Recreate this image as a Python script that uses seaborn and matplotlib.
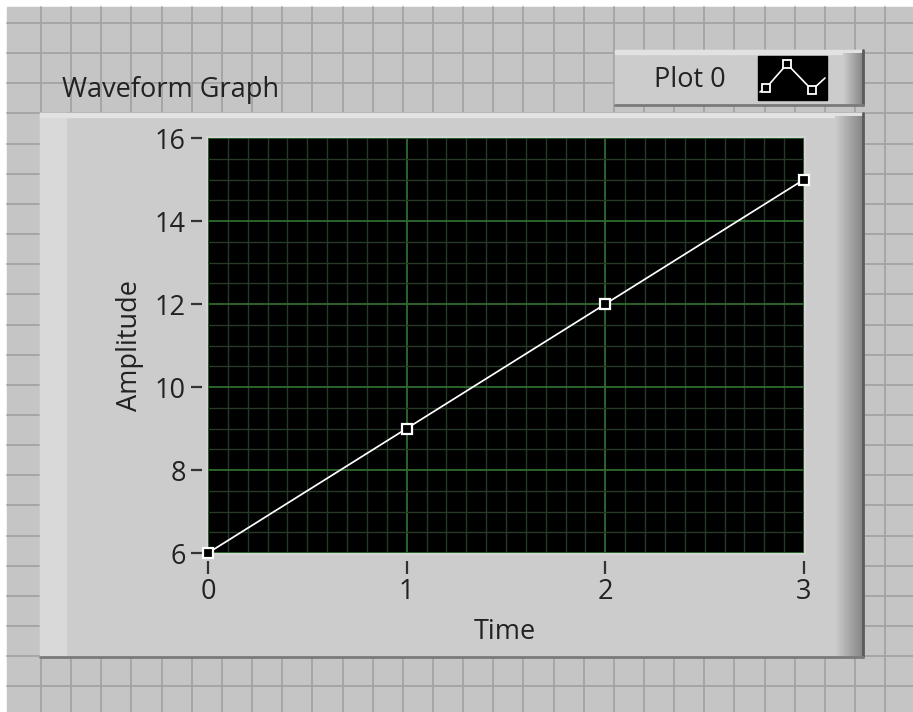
import numpy as np
import pandas as pd
import matplotlib
matplotlib.use("Agg")
import matplotlib.pyplot as plt
from matplotlib.patches import Rectangle
from matplotlib.ticker import MultipleLocator
import seaborn as sns

# ---- data -------------------------------------------------------------
time = [0, 1, 2, 3]
amplitude = [6, 9, 12, 15]
x_ticks = [0, 1, 2, 3]
y_ticks = [6, 8, 10, 12, 14, 16]
title = "Waveform Graph"
plot_name = "Plot 0"
x_label = "Time"
y_label = "Amplitude"

sns.set_style("white")
plt.rcParams["font.family"] = ["Open Sans", "DejaVu Sans"]

W, H = 913, 712
FS = 19.5
TXT = "#222222"
fig = plt.figure(figsize=(W / 100, H / 100), dpi=100)

# ---- front-panel backdrop (pixel coordinates) --------------------------
bg = fig.add_axes([0, 0, 1, 1])
bg.set_xlim(0, W)
bg.set_ylim(H, 0)
bg.axis("off")
bg.add_patch(Rectangle((0, 0), W, H, color="white", zorder=0))
bg.add_patch(Rectangle((7, 7), W - 7, H - 7, color="#c5c5c5", zorder=0.5))
for gx in np.arange(41, W, 30.15):
    bg.plot([gx, gx], [7, H], color="#a3a3a3", lw=1.3, zorder=0.6)
for gy in np.arange(23, H, 30.15):
    bg.plot([7, W], [gy, gy], color="#a3a3a3", lw=1.3, zorder=0.6)


def raised_box(x0, y0, x1, y1, shade_w=26, left_w=0):
    """Beveled grey box like a LabVIEW control frame."""
    bg.add_patch(Rectangle((x0, y0), x1 - x0, y1 - y0, color="#cccccc", zorder=1))
    if left_w:
        bg.add_patch(Rectangle((x0, y0), left_w, y1 - y0, color="#d9d9d9", zorder=1.1))
    bg.add_patch(Rectangle((x0, y0), x1 - x0, 4, color="#e2e2e2", zorder=1.2))
    grad = np.linspace(0.80, 0.52, 64)[None, :]
    bg.imshow(grad, cmap="gray", vmin=0, vmax=1, aspect="auto",
              extent=(x1 - shade_w, x1, y1, y0 + 3), zorder=1.3,
              interpolation="bilinear")
    bg.plot([x1, x1], [y0, y1], color="#5a5a5a", lw=2, zorder=1.4)
    bg.plot([x0, x1], [y1, y1], color="#7a7a7a", lw=2, zorder=1.4)


raised_box(40, 113, 863, 657, shade_w=28, left_w=26)
raised_box(615, 50, 863, 105, shade_w=20)

# legend glyph: black swatch with a short polyline and square markers
bg.add_patch(Rectangle((758, 56), 69, 44, color="black", zorder=2))
glyph_x = [760, 766, 787, 812, 825]
glyph_y = [92, 88, 64, 90, 78]
bg.plot(glyph_x, glyph_y, color="white", lw=1.2, zorder=2.1)
bg.plot(glyph_x[1:4], glyph_y[1:4], ls="none", marker="s", ms=5.5,
        mfc="black", mec="white", mew=1.3, zorder=2.2)

# plot-area border
L, R, T, B = 208, 804, 138, 553
bg.add_patch(Rectangle((L - 1, T - 1), R - L + 2, B - T + 2, fill=False,
                       ec="#d6d6d6", lw=1.2, zorder=3))
bg.set_xlim(0, W)
bg.set_ylim(H, 0)

fig.text(62 / W, 1 - 97 / H, title, fontsize=FS, color=TXT,
         ha="left", va="baseline")
fig.text(654 / W, 1 - 87 / H, plot_name, fontsize=FS, color=TXT,
         ha="left", va="baseline")

# ---- waveform plot area -----------------------------------------------
ax = fig.add_axes([L / W, 1 - B / H, (R - L) / W, (B - T) / H])
ax.set_facecolor("black")

df = pd.DataFrame({"Time": time, "Amplitude": amplitude})
sns.lineplot(data=df, x="Time", y="Amplitude", ax=ax, color="white",
             linewidth=1.25, marker="s", markersize=6.5, markerfacecolor="black",
             markeredgecolor="white", markeredgewidth=1.6, clip_on=False,
             zorder=5)

ax.set_xlim(0, 3)
ax.set_ylim(6, 16)
ax.set_xticks(x_ticks)
ax.set_yticks(y_ticks)
ax.xaxis.set_minor_locator(MultipleLocator(0.1))
ax.yaxis.set_minor_locator(MultipleLocator(0.5))
ax.grid(which="minor", color="#263a26", lw=1.0)
ax.grid(which="major", color="#2f6b2f", lw=1.3)
ax.set_axisbelow(True)

# ticks sit a few pixels away from the plot edge
ax.spines["left"].set_position(("outward", 4))
ax.spines["bottom"].set_position(("outward", 6))
for side in ["top", "right", "left", "bottom"]:
    ax.spines[side].set_visible(False)
ax.tick_params(which="minor", length=0)
ax.tick_params(axis="y", which="major", direction="out", length=8, width=1.6,
               color="#333333", pad=4, labelsize=FS, labelcolor=TXT,
               left=True)
ax.tick_params(axis="x", which="major", direction="out", length=9, width=1.6,
               color="#333333", pad=3, labelsize=FS, labelcolor=TXT,
               bottom=True)
ax.set_xlabel(x_label, fontsize=FS, color=TXT)
ax.set_ylabel(y_label, fontsize=FS, color=TXT)
ax.xaxis.set_label_coords((505 - L) / (R - L), -(618 - B) / (B - T))
ax.yaxis.set_label_coords(-(208 - 144) / (R - L), 0.5)

fig.savefig("out.png", dpi=100)
